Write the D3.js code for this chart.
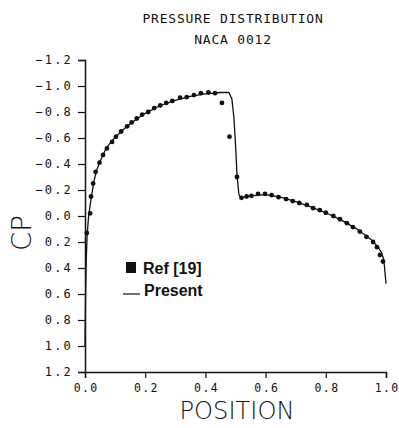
<!DOCTYPE html>
<html>
<head>
<meta charset="utf-8">
<script src="https://cdn.jsdelivr.net/npm/d3@7"></script>
<style>
  body { margin: 0; background: #fff; }
  svg { display: block; }
</style>
</head>
<body>
<script>
// reference data (Ref [19])
var refX = [0.006, 0.017, 0.02, 0.027, 0.035, 0.048, 0.06, 0.073, 0.09, 0.103, 0.12, 0.14, 0.155, 0.172, 0.19,
            0.21, 0.23, 0.25, 0.27, 0.29, 0.316, 0.338, 0.362, 0.385, 0.41, 0.432, 0.455, 0.48, 0.505,
            0.52, 0.537, 0.553, 0.575, 0.598, 0.62, 0.643, 0.668, 0.69, 0.712, 0.737, 0.758, 0.78, 0.80,
            0.825, 0.847, 0.87, 0.89, 0.913, 0.935, 0.957, 0.97, 0.98, 0.99];
var refCp = [0.13, -0.02, -0.15, -0.25, -0.34, -0.41, -0.47, -0.52, -0.57, -0.61, -0.65, -0.69, -0.72, -0.75, -0.78,
             -0.80, -0.83, -0.85, -0.87, -0.885, -0.91, -0.915, -0.93, -0.945, -0.95, -0.945, -0.87, -0.61, -0.30,
             -0.14, -0.15, -0.155, -0.17, -0.17, -0.16, -0.145, -0.13, -0.115, -0.10, -0.085, -0.06, -0.045, -0.025,
             0.0, 0.025, 0.055, 0.085, 0.12, 0.16, 0.20, 0.24, 0.30, 0.35];

// present computation
var presX = [0.0, 0.002, 0.004, 0.007, 0.012, 0.02, 0.03, 0.04, 0.05, 0.07, 0.09, 0.12, 0.15, 0.2, 0.25, 0.3,
             0.35, 0.4, 0.45, 0.478, 0.488, 0.495, 0.5, 0.505, 0.511, 0.517, 0.55, 0.6, 0.65, 0.7, 0.75,
             0.8, 0.85, 0.9, 0.95, 0.97, 0.985, 0.993, 1.0];
var presCp = [1.0, 0.6, 0.35, 0.15, 0.0, -0.13, -0.27, -0.36, -0.42, -0.52, -0.58, -0.65, -0.71, -0.79, -0.85, -0.89,
              -0.92, -0.94, -0.95, -0.95, -0.9, -0.75, -0.55, -0.32, -0.17, -0.14, -0.155, -0.165, -0.145, -0.11, -0.07,
              -0.025, 0.03, 0.095, 0.18, 0.23, 0.28, 0.34, 0.52];

var xTicks = [0, 0.2, 0.4, 0.6, 0.8, 1.0];
var yTicks = [-1.2, -1.0, -0.8, -0.6, -0.4, -0.2, 0.0, 0.2, 0.4, 0.6, 0.8, 1.0, 1.2];

var W = 399, H = 428;
var svg = d3.select("body").append("svg").attr("width", W).attr("height", H);

var x = d3.scaleLinear().domain([0, 1]).range([85, 386]);
var y = d3.scaleLinear().domain([-1.2, 1.2]).range([60, 372]);

var plotFont = "'DejaVu Sans Mono', monospace";
var ink = "#111";

// title
svg.append("text").attr("x", 233).attr("y", 23).attr("text-anchor", "middle")
  .attr("font-family", plotFont).attr("font-size", 13).attr("letter-spacing", 0.8)
  .attr("fill", ink).text("PRESSURE DISTRIBUTION");
svg.append("text").attr("x", 233).attr("y", 44).attr("text-anchor", "middle")
  .attr("font-family", plotFont).attr("font-size", 13).attr("letter-spacing", 0.8)
  .attr("fill", ink).text("NACA 0012");

// axes
var yAxis = d3.axisLeft(y).tickValues(yTicks).tickSize(7).tickFormat(d3.format(".1f"));
var gy = svg.append("g").attr("transform", "translate(85,0)").call(yAxis);
gy.select(".domain").attr("stroke", ink).attr("stroke-width", 1.5);
gy.selectAll(".tick line").attr("stroke", ink).attr("stroke-width", 1.2);
gy.selectAll(".tick text").attr("font-family", plotFont).attr("font-size", 12)
  .attr("letter-spacing", 2.2).attr("x", -12).attr("fill", ink);

var xAxis = d3.axisBottom(x).tickValues(xTicks).tickSize(6).tickFormat(d3.format(".1f"));
var gx = svg.append("g").attr("transform", "translate(0,372)").call(xAxis);
gx.select(".domain").attr("stroke", ink).attr("stroke-width", 1.5);
gx.selectAll(".tick line").attr("stroke", ink).attr("stroke-width", 1.2);
gx.selectAll(".tick text").attr("font-family", plotFont).attr("font-size", 11.5)
  .attr("letter-spacing", 1.4).attr("dx", 0.7).attr("y", 12).attr("fill", ink);

// axis titles
svg.append("text").attr("transform", "translate(31,233) rotate(-90)")
  .attr("text-anchor", "middle").attr("font-family", "'DejaVu Sans', sans-serif")
  .attr("font-weight", 200).attr("font-size", 26).attr("textLength", 36)
  .attr("lengthAdjust", "spacingAndGlyphs").attr("fill", ink).text("CP");
svg.append("text").attr("x", 237).attr("y", 419).attr("text-anchor", "middle")
  .attr("font-family", "'DejaVu Sans', sans-serif").attr("font-weight", 200)
  .attr("font-size", 25).attr("textLength", 115).attr("lengthAdjust", "spacingAndGlyphs")
  .attr("fill", ink).text("POSITION");

// present line
var pts = d3.zip(presX, presCp);
svg.append("path").datum(pts)
  .attr("fill", "none").attr("stroke", ink).attr("stroke-width", 1.3)
  .attr("d", d3.line().x(function(d) { return x(d[0]); }).y(function(d) { return y(d[1]); }));

// reference points
svg.append("g").selectAll("circle").data(d3.zip(refX, refCp)).enter().append("circle")
  .attr("cx", function(d) { return x(d[0]); })
  .attr("cy", function(d) { return y(d[1]); })
  .attr("r", 2.4).attr("fill", ink);

// legend
svg.append("rect").attr("x", 126).attr("y", 262).attr("width", 10).attr("height", 11).attr("fill", ink);
svg.append("text").attr("x", 143).attr("y", 274).attr("font-family", "'Liberation Sans', Arial, sans-serif")
  .attr("font-weight", "bold").attr("font-size", 16).attr("fill", ink).text("Ref [19]");
svg.append("line").attr("x1", 123).attr("x2", 140).attr("y1", 294).attr("y2", 294)
  .attr("stroke", ink).attr("stroke-width", 1.2);
svg.append("text").attr("x", 144).attr("y", 296).attr("font-family", "'Liberation Sans', Arial, sans-serif")
  .attr("font-weight", "bold").attr("font-size", 16).attr("fill", ink).text("Present");
</script>
</body>
</html>
